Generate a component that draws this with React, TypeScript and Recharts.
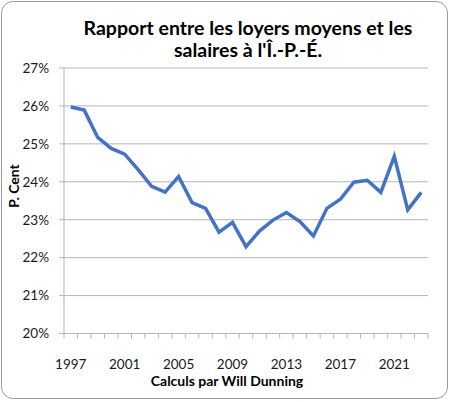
import { LineChart, Line, XAxis, YAxis, CartesianGrid } from 'recharts';

const years = [
  1997, 1998, 1999, 2000, 2001, 2002, 2003, 2004, 2005, 2006, 2007, 2008, 2009, 2010,
  2011, 2012, 2013, 2014, 2015, 2016, 2017, 2018, 2019, 2020, 2021, 2022, 2023,
];
const ratio = [
  25.97, 25.89, 25.17, 24.88, 24.73, 24.32, 23.88, 23.73, 24.14, 23.45, 23.3, 22.67, 22.93, 22.29,
  22.7, 22.99, 23.19, 22.95, 22.57, 23.3, 23.54, 23.99, 24.04, 23.72, 24.67, 23.26, 23.72,
];
const yTicks = [20, 21, 22, 23, 24, 25, 26, 27];
const labelEvery = 4;

const title = ['Rapport entre les loyers moyens et les', "salaires à l'Î.-P.-É."];
const yTitle = 'P. Cent';
const xTitle = 'Calculs par Will Dunning';

const chartData = years.map((year, i) => ({ year, ratio: ratio[i] }));

const W = 450;
const H = 402;
const plotLeft = 64;
const plotRight = 22;
const plotTop = 68;
const plotBottom = 68.5;
const halfStep = (W - plotLeft - plotRight) / years.length / 2;

const font = 'Lato, "Open Sans", sans-serif';
const gridColor = '#b5b5b5';

// Excel-style category ticks: marks between categories, a label every 4 years
function YearTick(props: any) {
  const { x, y, payload, index } = props;
  const last = index === years.length - 1;
  const showLabel = index % labelEvery === 0;
  return (
    <g>
      <line x1={x - halfStep} x2={x - halfStep} y1={y} y2={y + 5} stroke={gridColor} />
      {last && <line x1={x + halfStep} x2={x + halfStep} y1={y} y2={y + 5} stroke={gridColor} />}
      {showLabel && (
        <text x={x} y={y + 35} textAnchor="middle" fill="#1a1a1a" fontSize={13.5} fontFamily={font}>
          {payload.value}
        </text>
      )}
    </g>
  );
}

export default function App() {
  return (
    <div style={{ position: 'absolute', left: 0, top: 0, width: W, height: H, background: '#fff', fontFamily: font }}>
      <div
        style={{
          position: 'absolute',
          left: 1,
          top: 1,
          width: 447,
          height: 398,
          boxSizing: 'border-box',
          border: '1px solid #9a9a9a',
          borderRadius: 12,
        }}
      />
      <div
        style={{
          position: 'absolute',
          left: 0,
          top: 17,
          width: 496,
          textAlign: 'center',
          fontWeight: 700,
          fontSize: 19.5,
          lineHeight: '22px',
          color: '#000',
        }}
      >
        {title.map((t) => (
          <div key={t} style={{ whiteSpace: 'nowrap' }}>{t}</div>
        ))}
      </div>
      <LineChart
        width={W}
        height={H}
        data={chartData}
        margin={{ top: plotTop, right: plotRight, bottom: 0, left: 0 }}
        style={{ position: 'absolute', left: 0, top: 0 }}
      >
        <CartesianGrid vertical={false} stroke={gridColor} />
        <XAxis
          dataKey="year"
          interval={0}
          height={plotBottom}
          padding={{ left: halfStep, right: halfStep }}
          axisLine={{ stroke: gridColor }}
          tickLine={false}
          tickSize={0}
          tickMargin={0}
          tick={<YearTick />}
        />
        <YAxis
          width={plotLeft}
          domain={[20, 27]}
          ticks={yTicks}
          tickFormatter={(v) => `${v}%`}
          axisLine={{ stroke: gridColor }}
          tickLine={{ stroke: gridColor }}
          tickSize={5}
          tickMargin={10}
          tick={{ fill: '#1a1a1a', fontSize: 13.5, fontFamily: font }}
        />
        <Line
          type="linear"
          dataKey="ratio"
          stroke="#4472C4"
          strokeWidth={3.5}
          dot={false}
          isAnimationActive={false}
        />
      </LineChart>
      <div
        style={{
          position: 'absolute',
          left: 12.5,
          top: 186,
          transform: 'translate(-50%, -50%) rotate(-90deg)',
          fontWeight: 700,
          fontSize: 14,
          whiteSpace: 'nowrap',
          color: '#000',
        }}
      >
        {yTitle}
      </div>
      <div
        style={{
          position: 'absolute',
          left: 0,
          top: 372,
          width: 454,
          textAlign: 'center',
          fontWeight: 700,
          fontSize: 14,
          whiteSpace: 'nowrap',
          color: '#000',
        }}
      >
        {xTitle}
      </div>
    </div>
  );
}
